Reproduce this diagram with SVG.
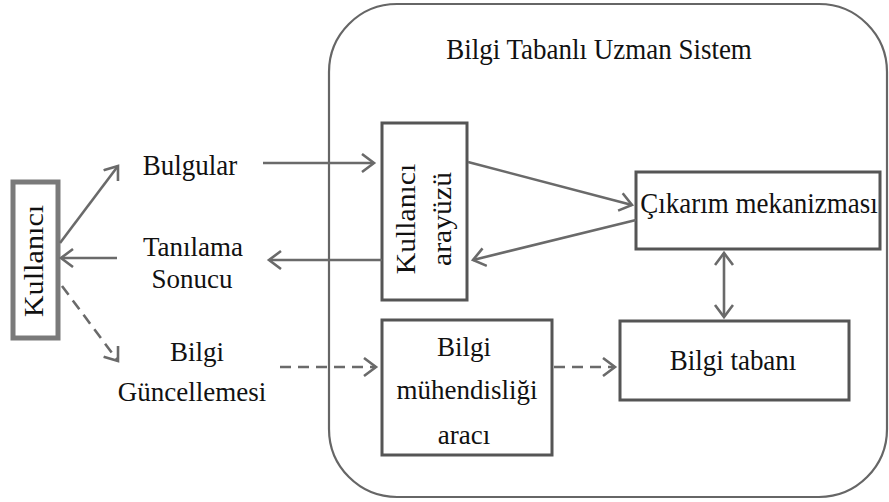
<svg xmlns="http://www.w3.org/2000/svg" width="889" height="502" viewBox="0 0 889 502">
  <style>
    .box { fill: #ffffff; stroke: #555555; stroke-width: 3; }
    .user { fill: #ffffff; stroke: #7a7a7a; stroke-width: 5; }
    .frame { fill: #ffffff; stroke: #666666; stroke-width: 2.2; }
    .lbl { font-family: "Liberation Serif", "Times New Roman", "DejaVu Serif", serif; font-size: 27px; fill: #111111; text-anchor: middle; }
    .edge { fill: none; stroke: #6a6a6a; stroke-width: 2.6; marker-end: url(#arr); }
    .dash { stroke-dasharray: 11 7; }
  </style>
  <defs>
    <marker id="arr" markerUnits="userSpaceOnUse" markerWidth="16" markerHeight="22" refX="13" refY="10" orient="auto-start-reverse" viewBox="0 0 16 22">
      <path d="M1,1 L13,10 L1,19" fill="none" stroke="#6a6a6a" stroke-width="2.6"/>
    </marker>
  </defs>

  <rect width="889" height="502" fill="#ffffff"/>

  <!-- system boundary -->
  <g id="system">
    <rect class="frame" x="329" y="4" width="558" height="493" rx="68" ry="68"/>
    <text class="lbl" transform="translate(599,59) scale(1,1.12)">Bilgi Tabanlı Uzman Sistem</text>
  </g>

  <!-- user -->
  <g id="kullanici">
    <rect class="user" x="13" y="182" width="45" height="156"/>
    <text class="lbl" transform="translate(43,261) scale(1,1.12) rotate(-90)">Kullanıcı</text>
  </g>

  <g id="bulgular">
    <text class="lbl" transform="translate(190,175) scale(1,1.1)">Bulgular</text>
  </g>

  <g id="tanilama">
    <text class="lbl" transform="translate(193,256)">Tanılama</text>
    <text class="lbl" transform="translate(192,288)">Sonucu</text>
  </g>

  <g id="guncelleme">
    <text class="lbl" transform="translate(197,361)">Bilgi</text>
    <text class="lbl" transform="translate(192,401)">Güncellemesi</text>
  </g>

  <g id="arayuz">
    <rect class="box" x="382" y="123" width="85" height="177"/>
    <text class="lbl" transform="translate(415,219) scale(1,1.1) rotate(-90)">Kullanıcı</text>
    <text class="lbl" transform="translate(451,219) scale(1,1.1) rotate(-90)">arayüzü</text>
  </g>

  <g id="cikarim">
    <rect class="box" x="636" y="172" width="244" height="77"/>
    <text class="lbl" transform="translate(759,213) scale(1,1.1)">Çıkarım mekanizması</text>
  </g>

  <g id="tabani">
    <rect class="box" x="620" y="321" width="229" height="79"/>
    <text class="lbl" transform="translate(733,370) scale(1,1.1)">Bilgi tabanı</text>
  </g>

  <g id="muhendislik">
    <rect class="box" x="382" y="320" width="170" height="135"/>
    <text class="lbl" transform="translate(464,356)">Bilgi</text>
    <text class="lbl" transform="translate(467,399)">mühendisliği</text>
    <text class="lbl" transform="translate(464,444)">aracı</text>
  </g>

  <!-- connectors -->
  <g id="connectors">
    <line class="edge" x1="60" y1="243" x2="118" y2="166"/>
    <line class="edge" x1="117" y1="258" x2="61" y2="258"/>
    <line class="edge dash" x1="62" y1="286" x2="118" y2="361"/>
    <line class="edge" x1="263" y1="163" x2="374" y2="163"/>
    <line class="edge" x1="382" y1="260" x2="269" y2="260"/>
    <line class="edge" x1="468" y1="162" x2="632" y2="205"/>
    <line class="edge" x1="636" y1="220" x2="473" y2="260"/>
    <line class="edge" x1="724" y1="253" x2="724" y2="317" style="marker-start:url(#arr)"/>
    <line class="edge dash" x1="280" y1="367" x2="376" y2="367"/>
    <line class="edge dash" x1="554" y1="367" x2="615" y2="367"/>
  </g>
</svg>
